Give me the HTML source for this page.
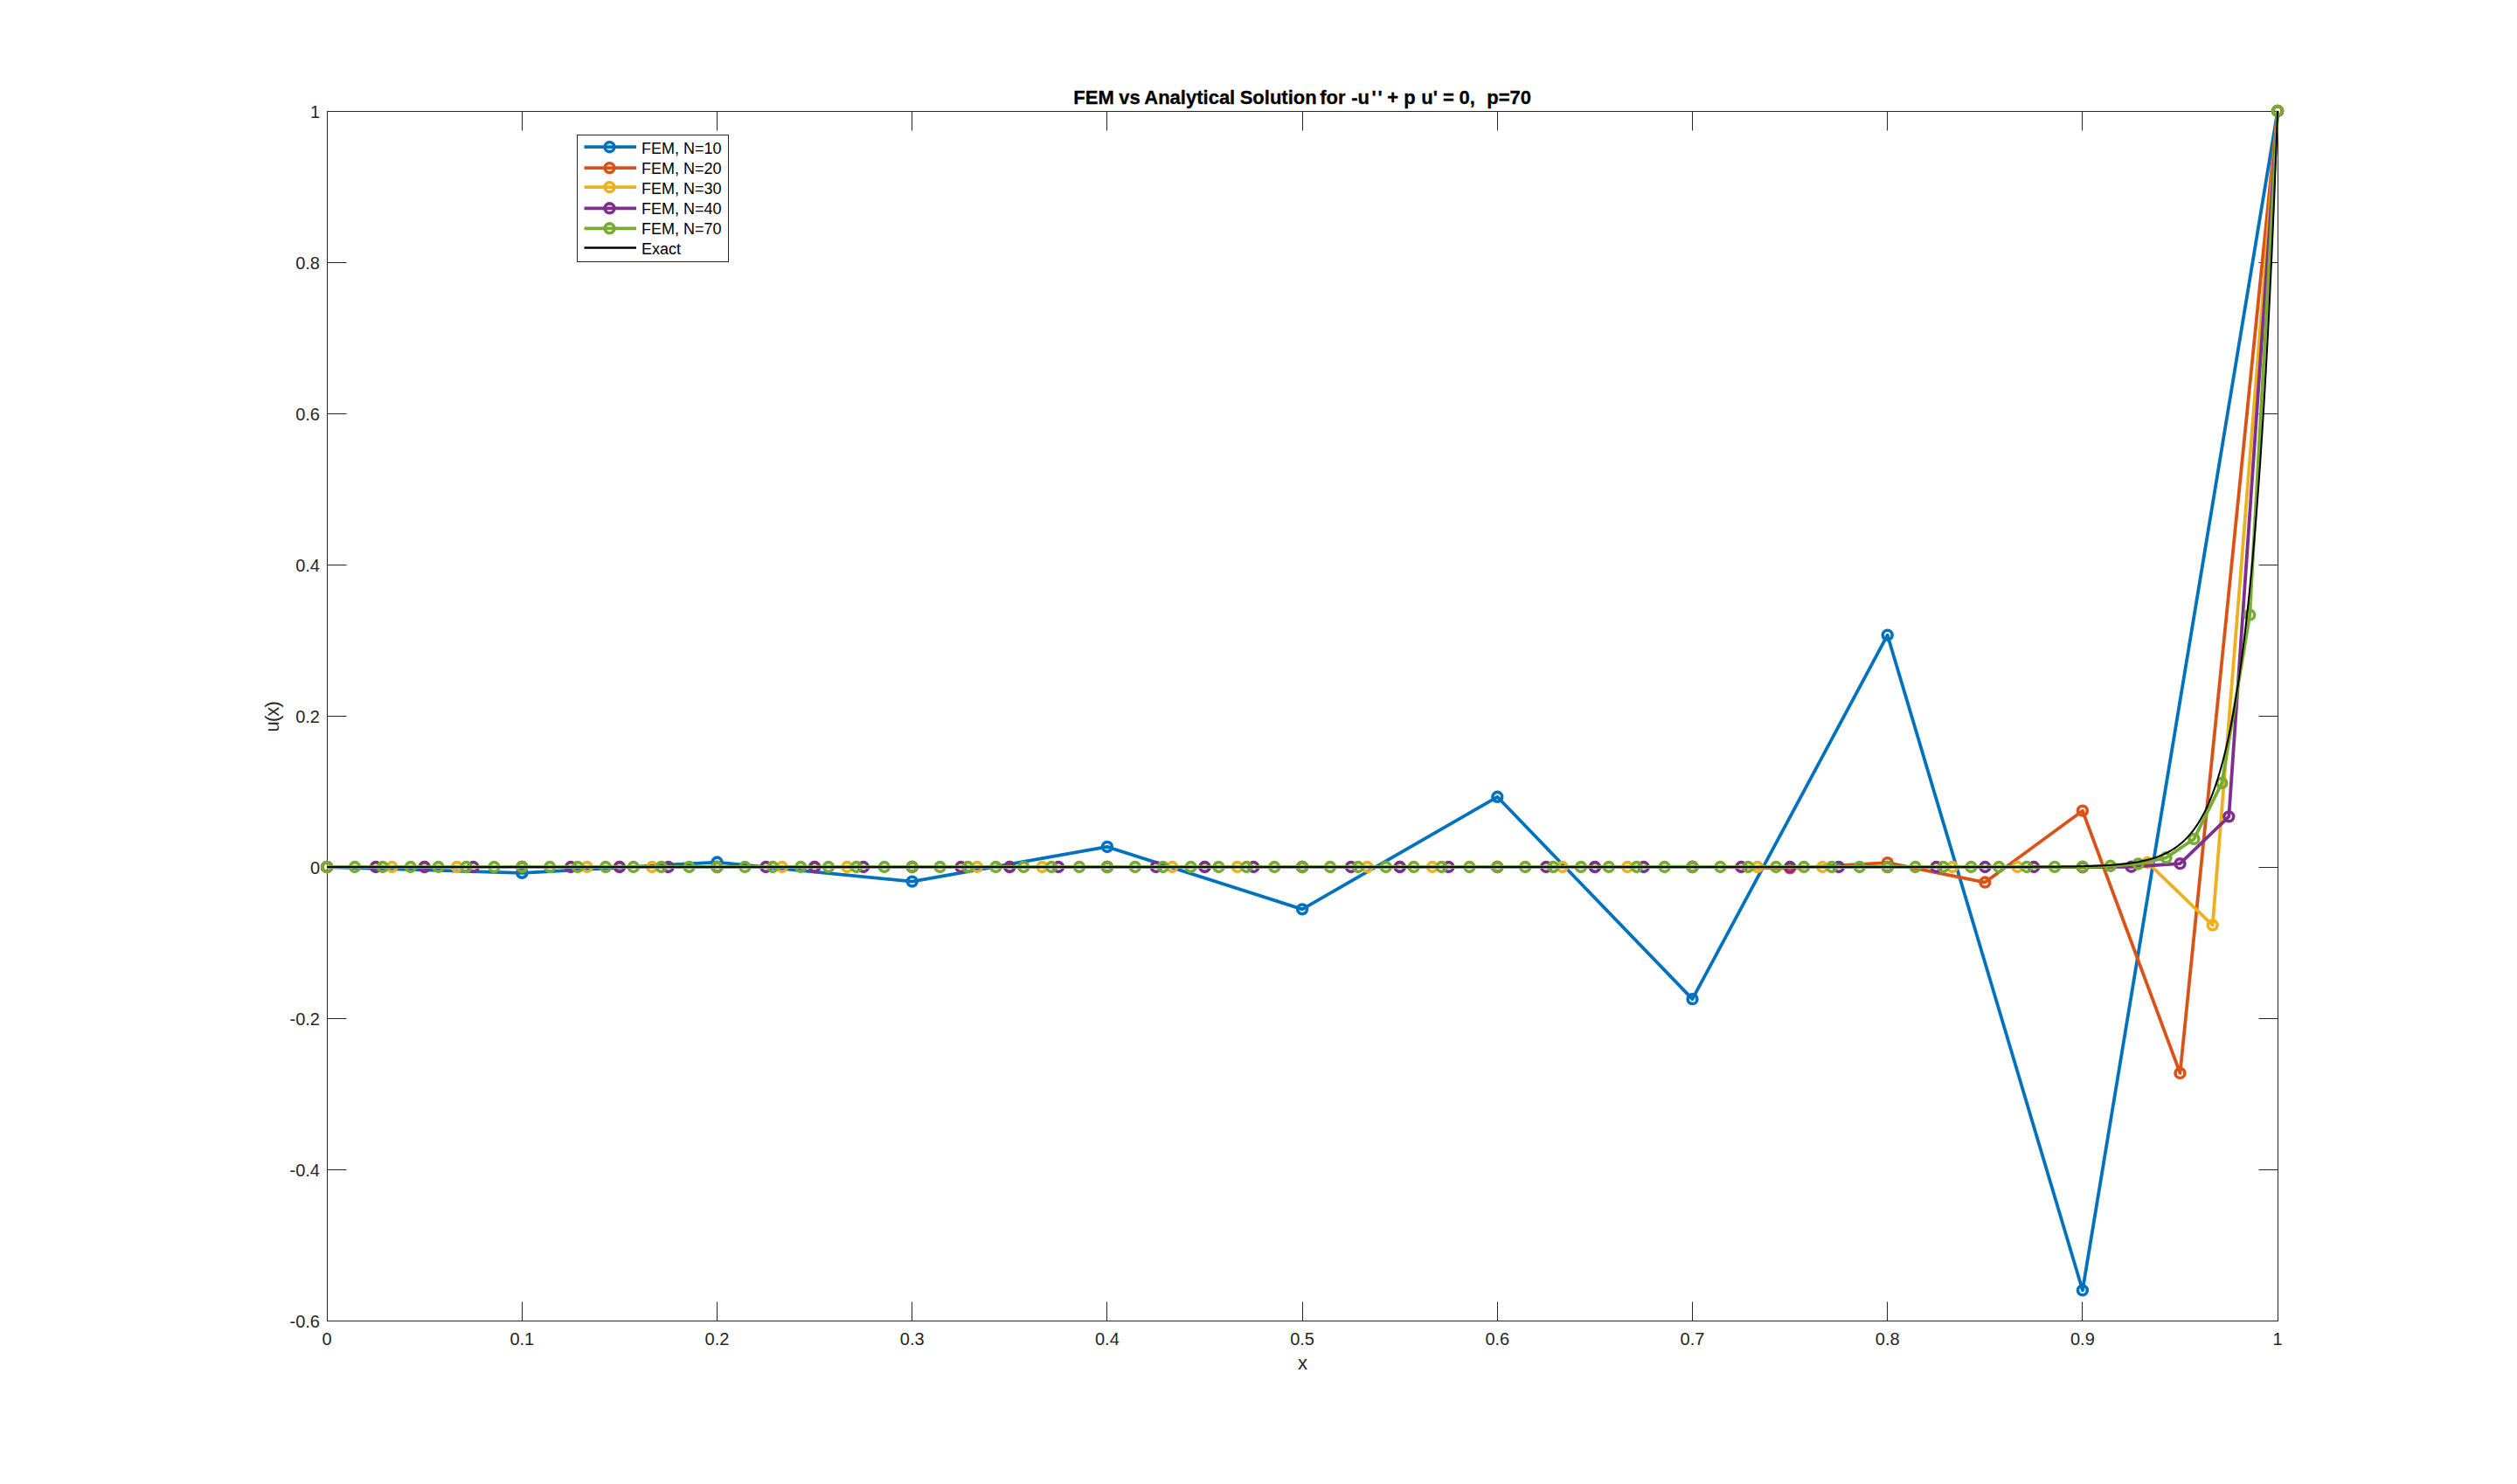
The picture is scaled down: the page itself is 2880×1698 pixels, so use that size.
<!DOCTYPE html><html><head><meta charset="utf-8"><style>html,body{margin:0;padding:0;background:#fff;}svg{display:block;}text{font-family:"Liberation Sans",sans-serif;}</style></head><body>
<svg width="2880" height="1698" viewBox="0 0 2880 1698">
<rect x="0" y="0" width="2880" height="1698" fill="#fff"/>
<path d="M374.50 127.50H2606.50V1511.50H374.50Z" fill="none" stroke="#262626" stroke-width="1"/>
<path d="M374.50 1511.50V1489.50M374.50 127.50V149.50M597.50 1511.50V1489.50M597.50 127.50V149.50M820.50 1511.50V1489.50M820.50 127.50V149.50M1043.50 1511.50V1489.50M1043.50 127.50V149.50M1266.50 1511.50V1489.50M1266.50 127.50V149.50M1490.50 1511.50V1489.50M1490.50 127.50V149.50M1713.50 1511.50V1489.50M1713.50 127.50V149.50M1936.50 1511.50V1489.50M1936.50 127.50V149.50M2159.50 1511.50V1489.50M2159.50 127.50V149.50M2382.50 1511.50V1489.50M2382.50 127.50V149.50M2606.50 1511.50V1489.50M2606.50 127.50V149.50M374.50 1511.50H396.50M2606.50 1511.50H2584.50M374.50 1338.50H396.50M2606.50 1338.50H2584.50M374.50 1165.50H396.50M2606.50 1165.50H2584.50M374.50 992.50H396.50M2606.50 992.50H2584.50M374.50 819.50H396.50M2606.50 819.50H2584.50M374.50 646.50H396.50M2606.50 646.50H2584.50M374.50 473.50H396.50M2606.50 473.50H2584.50M374.50 300.50H396.50M2606.50 300.50H2584.50M374.50 127.50H396.50M2606.50 127.50H2584.50" fill="none" stroke="#262626" stroke-width="1"/>
<path d="M374.10 992.00 L597.30 998.80 L820.50 986.56 L1043.70 1008.60 L1266.90 968.93 L1490.10 1040.34 L1713.30 911.80 L1936.50 1143.17 L2159.70 726.70 L2382.90 1476.33 L2606.10 127.00" fill="none" stroke="#0072BD" stroke-width="3.8" stroke-linejoin="round" stroke-linecap="butt"/>
<path d="M368.70 992.00a5.4 5.4 0 1 0 10.80 0a5.4 5.4 0 1 0 -10.80 0M591.90 998.80a5.4 5.4 0 1 0 10.80 0a5.4 5.4 0 1 0 -10.80 0M815.10 986.56a5.4 5.4 0 1 0 10.80 0a5.4 5.4 0 1 0 -10.80 0M1038.30 1008.60a5.4 5.4 0 1 0 10.80 0a5.4 5.4 0 1 0 -10.80 0M1261.50 968.93a5.4 5.4 0 1 0 10.80 0a5.4 5.4 0 1 0 -10.80 0M1484.70 1040.34a5.4 5.4 0 1 0 10.80 0a5.4 5.4 0 1 0 -10.80 0M1707.90 911.80a5.4 5.4 0 1 0 10.80 0a5.4 5.4 0 1 0 -10.80 0M1931.10 1143.17a5.4 5.4 0 1 0 10.80 0a5.4 5.4 0 1 0 -10.80 0M2154.30 726.70a5.4 5.4 0 1 0 10.80 0a5.4 5.4 0 1 0 -10.80 0M2377.50 1476.33a5.4 5.4 0 1 0 10.80 0a5.4 5.4 0 1 0 -10.80 0M2600.70 127.00a5.4 5.4 0 1 0 10.80 0a5.4 5.4 0 1 0 -10.80 0" fill="none" stroke="#0072BD" stroke-width="3.6"/>
<path d="M374.10 992.00 L485.70 992.00 L597.30 992.00 L708.90 992.00 L820.50 992.00 L932.10 992.00 L1043.70 992.00 L1155.30 992.00 L1266.90 992.00 L1378.50 992.00 L1490.10 992.00 L1601.70 992.01 L1713.30 991.97 L1824.90 992.10 L1936.50 991.64 L2048.10 993.31 L2159.70 987.21 L2271.30 1009.55 L2382.90 927.66 L2494.50 1227.91 L2606.10 127.00" fill="none" stroke="#D95319" stroke-width="3.8" stroke-linejoin="round" stroke-linecap="butt"/>
<path d="M368.70 992.00a5.4 5.4 0 1 0 10.80 0a5.4 5.4 0 1 0 -10.80 0M480.30 992.00a5.4 5.4 0 1 0 10.80 0a5.4 5.4 0 1 0 -10.80 0M591.90 992.00a5.4 5.4 0 1 0 10.80 0a5.4 5.4 0 1 0 -10.80 0M703.50 992.00a5.4 5.4 0 1 0 10.80 0a5.4 5.4 0 1 0 -10.80 0M815.10 992.00a5.4 5.4 0 1 0 10.80 0a5.4 5.4 0 1 0 -10.80 0M926.70 992.00a5.4 5.4 0 1 0 10.80 0a5.4 5.4 0 1 0 -10.80 0M1038.30 992.00a5.4 5.4 0 1 0 10.80 0a5.4 5.4 0 1 0 -10.80 0M1149.90 992.00a5.4 5.4 0 1 0 10.80 0a5.4 5.4 0 1 0 -10.80 0M1261.50 992.00a5.4 5.4 0 1 0 10.80 0a5.4 5.4 0 1 0 -10.80 0M1373.10 992.00a5.4 5.4 0 1 0 10.80 0a5.4 5.4 0 1 0 -10.80 0M1484.70 992.00a5.4 5.4 0 1 0 10.80 0a5.4 5.4 0 1 0 -10.80 0M1596.30 992.01a5.4 5.4 0 1 0 10.80 0a5.4 5.4 0 1 0 -10.80 0M1707.90 991.97a5.4 5.4 0 1 0 10.80 0a5.4 5.4 0 1 0 -10.80 0M1819.50 992.10a5.4 5.4 0 1 0 10.80 0a5.4 5.4 0 1 0 -10.80 0M1931.10 991.64a5.4 5.4 0 1 0 10.80 0a5.4 5.4 0 1 0 -10.80 0M2042.70 993.31a5.4 5.4 0 1 0 10.80 0a5.4 5.4 0 1 0 -10.80 0M2154.30 987.21a5.4 5.4 0 1 0 10.80 0a5.4 5.4 0 1 0 -10.80 0M2265.90 1009.55a5.4 5.4 0 1 0 10.80 0a5.4 5.4 0 1 0 -10.80 0M2377.50 927.66a5.4 5.4 0 1 0 10.80 0a5.4 5.4 0 1 0 -10.80 0M2489.10 1227.91a5.4 5.4 0 1 0 10.80 0a5.4 5.4 0 1 0 -10.80 0M2600.70 127.00a5.4 5.4 0 1 0 10.80 0a5.4 5.4 0 1 0 -10.80 0" fill="none" stroke="#D95319" stroke-width="3.6"/>
<path d="M374.10 992.00 L448.50 992.00 L522.90 992.00 L597.30 992.00 L671.70 992.00 L746.10 992.00 L820.50 992.00 L894.90 992.00 L969.30 992.00 L1043.70 992.00 L1118.10 992.00 L1192.50 992.00 L1266.90 992.00 L1341.30 992.00 L1415.70 992.00 L1490.10 992.00 L1564.50 992.00 L1638.90 992.00 L1713.30 992.00 L1787.70 992.00 L1862.10 992.00 L1936.50 992.00 L2010.90 992.00 L2085.30 992.00 L2159.70 992.00 L2234.10 992.00 L2308.50 991.97 L2382.90 992.39 L2457.30 986.88 L2531.70 1058.54 L2606.10 127.00" fill="none" stroke="#EDB120" stroke-width="3.8" stroke-linejoin="round" stroke-linecap="butt"/>
<path d="M368.70 992.00a5.4 5.4 0 1 0 10.80 0a5.4 5.4 0 1 0 -10.80 0M443.10 992.00a5.4 5.4 0 1 0 10.80 0a5.4 5.4 0 1 0 -10.80 0M517.50 992.00a5.4 5.4 0 1 0 10.80 0a5.4 5.4 0 1 0 -10.80 0M591.90 992.00a5.4 5.4 0 1 0 10.80 0a5.4 5.4 0 1 0 -10.80 0M666.30 992.00a5.4 5.4 0 1 0 10.80 0a5.4 5.4 0 1 0 -10.80 0M740.70 992.00a5.4 5.4 0 1 0 10.80 0a5.4 5.4 0 1 0 -10.80 0M815.10 992.00a5.4 5.4 0 1 0 10.80 0a5.4 5.4 0 1 0 -10.80 0M889.50 992.00a5.4 5.4 0 1 0 10.80 0a5.4 5.4 0 1 0 -10.80 0M963.90 992.00a5.4 5.4 0 1 0 10.80 0a5.4 5.4 0 1 0 -10.80 0M1038.30 992.00a5.4 5.4 0 1 0 10.80 0a5.4 5.4 0 1 0 -10.80 0M1112.70 992.00a5.4 5.4 0 1 0 10.80 0a5.4 5.4 0 1 0 -10.80 0M1187.10 992.00a5.4 5.4 0 1 0 10.80 0a5.4 5.4 0 1 0 -10.80 0M1261.50 992.00a5.4 5.4 0 1 0 10.80 0a5.4 5.4 0 1 0 -10.80 0M1335.90 992.00a5.4 5.4 0 1 0 10.80 0a5.4 5.4 0 1 0 -10.80 0M1410.30 992.00a5.4 5.4 0 1 0 10.80 0a5.4 5.4 0 1 0 -10.80 0M1484.70 992.00a5.4 5.4 0 1 0 10.80 0a5.4 5.4 0 1 0 -10.80 0M1559.10 992.00a5.4 5.4 0 1 0 10.80 0a5.4 5.4 0 1 0 -10.80 0M1633.50 992.00a5.4 5.4 0 1 0 10.80 0a5.4 5.4 0 1 0 -10.80 0M1707.90 992.00a5.4 5.4 0 1 0 10.80 0a5.4 5.4 0 1 0 -10.80 0M1782.30 992.00a5.4 5.4 0 1 0 10.80 0a5.4 5.4 0 1 0 -10.80 0M1856.70 992.00a5.4 5.4 0 1 0 10.80 0a5.4 5.4 0 1 0 -10.80 0M1931.10 992.00a5.4 5.4 0 1 0 10.80 0a5.4 5.4 0 1 0 -10.80 0M2005.50 992.00a5.4 5.4 0 1 0 10.80 0a5.4 5.4 0 1 0 -10.80 0M2079.90 992.00a5.4 5.4 0 1 0 10.80 0a5.4 5.4 0 1 0 -10.80 0M2154.30 992.00a5.4 5.4 0 1 0 10.80 0a5.4 5.4 0 1 0 -10.80 0M2228.70 992.00a5.4 5.4 0 1 0 10.80 0a5.4 5.4 0 1 0 -10.80 0M2303.10 991.97a5.4 5.4 0 1 0 10.80 0a5.4 5.4 0 1 0 -10.80 0M2377.50 992.39a5.4 5.4 0 1 0 10.80 0a5.4 5.4 0 1 0 -10.80 0M2451.90 986.88a5.4 5.4 0 1 0 10.80 0a5.4 5.4 0 1 0 -10.80 0M2526.30 1058.54a5.4 5.4 0 1 0 10.80 0a5.4 5.4 0 1 0 -10.80 0M2600.70 127.00a5.4 5.4 0 1 0 10.80 0a5.4 5.4 0 1 0 -10.80 0" fill="none" stroke="#EDB120" stroke-width="3.6"/>
<path d="M374.10 992.00 L429.90 992.00 L485.70 992.00 L541.50 992.00 L597.30 992.00 L653.10 992.00 L708.90 992.00 L764.70 992.00 L820.50 992.00 L876.30 992.00 L932.10 992.00 L987.90 992.00 L1043.70 992.00 L1099.50 992.00 L1155.30 992.00 L1211.10 992.00 L1266.90 992.00 L1322.70 992.00 L1378.50 992.00 L1434.30 992.00 L1490.10 992.00 L1545.90 992.00 L1601.70 992.00 L1657.50 992.00 L1713.30 992.00 L1769.10 992.00 L1824.90 992.00 L1880.70 992.00 L1936.50 992.00 L1992.30 992.00 L2048.10 992.00 L2103.90 992.00 L2159.70 992.00 L2215.50 992.00 L2271.30 992.00 L2327.10 992.00 L2382.90 991.98 L2438.70 991.74 L2494.50 988.16 L2550.30 934.33 L2606.10 127.00" fill="none" stroke="#7E2F8E" stroke-width="3.8" stroke-linejoin="round" stroke-linecap="butt"/>
<path d="M368.70 992.00a5.4 5.4 0 1 0 10.80 0a5.4 5.4 0 1 0 -10.80 0M424.50 992.00a5.4 5.4 0 1 0 10.80 0a5.4 5.4 0 1 0 -10.80 0M480.30 992.00a5.4 5.4 0 1 0 10.80 0a5.4 5.4 0 1 0 -10.80 0M536.10 992.00a5.4 5.4 0 1 0 10.80 0a5.4 5.4 0 1 0 -10.80 0M591.90 992.00a5.4 5.4 0 1 0 10.80 0a5.4 5.4 0 1 0 -10.80 0M647.70 992.00a5.4 5.4 0 1 0 10.80 0a5.4 5.4 0 1 0 -10.80 0M703.50 992.00a5.4 5.4 0 1 0 10.80 0a5.4 5.4 0 1 0 -10.80 0M759.30 992.00a5.4 5.4 0 1 0 10.80 0a5.4 5.4 0 1 0 -10.80 0M815.10 992.00a5.4 5.4 0 1 0 10.80 0a5.4 5.4 0 1 0 -10.80 0M870.90 992.00a5.4 5.4 0 1 0 10.80 0a5.4 5.4 0 1 0 -10.80 0M926.70 992.00a5.4 5.4 0 1 0 10.80 0a5.4 5.4 0 1 0 -10.80 0M982.50 992.00a5.4 5.4 0 1 0 10.80 0a5.4 5.4 0 1 0 -10.80 0M1038.30 992.00a5.4 5.4 0 1 0 10.80 0a5.4 5.4 0 1 0 -10.80 0M1094.10 992.00a5.4 5.4 0 1 0 10.80 0a5.4 5.4 0 1 0 -10.80 0M1149.90 992.00a5.4 5.4 0 1 0 10.80 0a5.4 5.4 0 1 0 -10.80 0M1205.70 992.00a5.4 5.4 0 1 0 10.80 0a5.4 5.4 0 1 0 -10.80 0M1261.50 992.00a5.4 5.4 0 1 0 10.80 0a5.4 5.4 0 1 0 -10.80 0M1317.30 992.00a5.4 5.4 0 1 0 10.80 0a5.4 5.4 0 1 0 -10.80 0M1373.10 992.00a5.4 5.4 0 1 0 10.80 0a5.4 5.4 0 1 0 -10.80 0M1428.90 992.00a5.4 5.4 0 1 0 10.80 0a5.4 5.4 0 1 0 -10.80 0M1484.70 992.00a5.4 5.4 0 1 0 10.80 0a5.4 5.4 0 1 0 -10.80 0M1540.50 992.00a5.4 5.4 0 1 0 10.80 0a5.4 5.4 0 1 0 -10.80 0M1596.30 992.00a5.4 5.4 0 1 0 10.80 0a5.4 5.4 0 1 0 -10.80 0M1652.10 992.00a5.4 5.4 0 1 0 10.80 0a5.4 5.4 0 1 0 -10.80 0M1707.90 992.00a5.4 5.4 0 1 0 10.80 0a5.4 5.4 0 1 0 -10.80 0M1763.70 992.00a5.4 5.4 0 1 0 10.80 0a5.4 5.4 0 1 0 -10.80 0M1819.50 992.00a5.4 5.4 0 1 0 10.80 0a5.4 5.4 0 1 0 -10.80 0M1875.30 992.00a5.4 5.4 0 1 0 10.80 0a5.4 5.4 0 1 0 -10.80 0M1931.10 992.00a5.4 5.4 0 1 0 10.80 0a5.4 5.4 0 1 0 -10.80 0M1986.90 992.00a5.4 5.4 0 1 0 10.80 0a5.4 5.4 0 1 0 -10.80 0M2042.70 992.00a5.4 5.4 0 1 0 10.80 0a5.4 5.4 0 1 0 -10.80 0M2098.50 992.00a5.4 5.4 0 1 0 10.80 0a5.4 5.4 0 1 0 -10.80 0M2154.30 992.00a5.4 5.4 0 1 0 10.80 0a5.4 5.4 0 1 0 -10.80 0M2210.10 992.00a5.4 5.4 0 1 0 10.80 0a5.4 5.4 0 1 0 -10.80 0M2265.90 992.00a5.4 5.4 0 1 0 10.80 0a5.4 5.4 0 1 0 -10.80 0M2321.70 992.00a5.4 5.4 0 1 0 10.80 0a5.4 5.4 0 1 0 -10.80 0M2377.50 991.98a5.4 5.4 0 1 0 10.80 0a5.4 5.4 0 1 0 -10.80 0M2433.30 991.74a5.4 5.4 0 1 0 10.80 0a5.4 5.4 0 1 0 -10.80 0M2489.10 988.16a5.4 5.4 0 1 0 10.80 0a5.4 5.4 0 1 0 -10.80 0M2544.90 934.33a5.4 5.4 0 1 0 10.80 0a5.4 5.4 0 1 0 -10.80 0M2600.70 127.00a5.4 5.4 0 1 0 10.80 0a5.4 5.4 0 1 0 -10.80 0" fill="none" stroke="#7E2F8E" stroke-width="3.6"/>
<path d="M374.10 992.00 L405.99 992.00 L437.87 992.00 L469.76 992.00 L501.64 992.00 L533.53 992.00 L565.41 992.00 L597.30 992.00 L629.19 992.00 L661.07 992.00 L692.96 992.00 L724.84 992.00 L756.73 992.00 L788.61 992.00 L820.50 992.00 L852.39 992.00 L884.27 992.00 L916.16 992.00 L948.04 992.00 L979.93 992.00 L1011.81 992.00 L1043.70 992.00 L1075.59 992.00 L1107.47 992.00 L1139.36 992.00 L1171.24 992.00 L1203.13 992.00 L1235.01 992.00 L1266.90 992.00 L1298.79 992.00 L1330.67 992.00 L1362.56 992.00 L1394.44 992.00 L1426.33 992.00 L1458.21 992.00 L1490.10 992.00 L1521.99 992.00 L1553.87 992.00 L1585.76 992.00 L1617.64 992.00 L1649.53 992.00 L1681.41 992.00 L1713.30 992.00 L1745.19 992.00 L1777.07 992.00 L1808.96 992.00 L1840.84 992.00 L1872.73 992.00 L1904.61 992.00 L1936.50 992.00 L1968.39 992.00 L2000.27 992.00 L2032.16 992.00 L2064.04 992.00 L2095.93 992.00 L2127.81 992.00 L2159.70 992.00 L2191.59 992.00 L2223.47 992.00 L2255.36 992.00 L2287.24 991.99 L2319.13 991.96 L2351.01 991.87 L2382.90 991.60 L2414.79 990.81 L2446.67 988.44 L2478.56 981.32 L2510.44 959.96 L2542.33 895.89 L2574.21 703.67 L2606.10 127.00" fill="none" stroke="#77AC30" stroke-width="3.8" stroke-linejoin="round" stroke-linecap="butt"/>
<path d="M368.70 992.00a5.4 5.4 0 1 0 10.80 0a5.4 5.4 0 1 0 -10.80 0M400.59 992.00a5.4 5.4 0 1 0 10.80 0a5.4 5.4 0 1 0 -10.80 0M432.47 992.00a5.4 5.4 0 1 0 10.80 0a5.4 5.4 0 1 0 -10.80 0M464.36 992.00a5.4 5.4 0 1 0 10.80 0a5.4 5.4 0 1 0 -10.80 0M496.24 992.00a5.4 5.4 0 1 0 10.80 0a5.4 5.4 0 1 0 -10.80 0M528.13 992.00a5.4 5.4 0 1 0 10.80 0a5.4 5.4 0 1 0 -10.80 0M560.01 992.00a5.4 5.4 0 1 0 10.80 0a5.4 5.4 0 1 0 -10.80 0M591.90 992.00a5.4 5.4 0 1 0 10.80 0a5.4 5.4 0 1 0 -10.80 0M623.79 992.00a5.4 5.4 0 1 0 10.80 0a5.4 5.4 0 1 0 -10.80 0M655.67 992.00a5.4 5.4 0 1 0 10.80 0a5.4 5.4 0 1 0 -10.80 0M687.56 992.00a5.4 5.4 0 1 0 10.80 0a5.4 5.4 0 1 0 -10.80 0M719.44 992.00a5.4 5.4 0 1 0 10.80 0a5.4 5.4 0 1 0 -10.80 0M751.33 992.00a5.4 5.4 0 1 0 10.80 0a5.4 5.4 0 1 0 -10.80 0M783.21 992.00a5.4 5.4 0 1 0 10.80 0a5.4 5.4 0 1 0 -10.80 0M815.10 992.00a5.4 5.4 0 1 0 10.80 0a5.4 5.4 0 1 0 -10.80 0M846.99 992.00a5.4 5.4 0 1 0 10.80 0a5.4 5.4 0 1 0 -10.80 0M878.87 992.00a5.4 5.4 0 1 0 10.80 0a5.4 5.4 0 1 0 -10.80 0M910.76 992.00a5.4 5.4 0 1 0 10.80 0a5.4 5.4 0 1 0 -10.80 0M942.64 992.00a5.4 5.4 0 1 0 10.80 0a5.4 5.4 0 1 0 -10.80 0M974.53 992.00a5.4 5.4 0 1 0 10.80 0a5.4 5.4 0 1 0 -10.80 0M1006.41 992.00a5.4 5.4 0 1 0 10.80 0a5.4 5.4 0 1 0 -10.80 0M1038.30 992.00a5.4 5.4 0 1 0 10.80 0a5.4 5.4 0 1 0 -10.80 0M1070.19 992.00a5.4 5.4 0 1 0 10.80 0a5.4 5.4 0 1 0 -10.80 0M1102.07 992.00a5.4 5.4 0 1 0 10.80 0a5.4 5.4 0 1 0 -10.80 0M1133.96 992.00a5.4 5.4 0 1 0 10.80 0a5.4 5.4 0 1 0 -10.80 0M1165.84 992.00a5.4 5.4 0 1 0 10.80 0a5.4 5.4 0 1 0 -10.80 0M1197.73 992.00a5.4 5.4 0 1 0 10.80 0a5.4 5.4 0 1 0 -10.80 0M1229.61 992.00a5.4 5.4 0 1 0 10.80 0a5.4 5.4 0 1 0 -10.80 0M1261.50 992.00a5.4 5.4 0 1 0 10.80 0a5.4 5.4 0 1 0 -10.80 0M1293.39 992.00a5.4 5.4 0 1 0 10.80 0a5.4 5.4 0 1 0 -10.80 0M1325.27 992.00a5.4 5.4 0 1 0 10.80 0a5.4 5.4 0 1 0 -10.80 0M1357.16 992.00a5.4 5.4 0 1 0 10.80 0a5.4 5.4 0 1 0 -10.80 0M1389.04 992.00a5.4 5.4 0 1 0 10.80 0a5.4 5.4 0 1 0 -10.80 0M1420.93 992.00a5.4 5.4 0 1 0 10.80 0a5.4 5.4 0 1 0 -10.80 0M1452.81 992.00a5.4 5.4 0 1 0 10.80 0a5.4 5.4 0 1 0 -10.80 0M1484.70 992.00a5.4 5.4 0 1 0 10.80 0a5.4 5.4 0 1 0 -10.80 0M1516.59 992.00a5.4 5.4 0 1 0 10.80 0a5.4 5.4 0 1 0 -10.80 0M1548.47 992.00a5.4 5.4 0 1 0 10.80 0a5.4 5.4 0 1 0 -10.80 0M1580.36 992.00a5.4 5.4 0 1 0 10.80 0a5.4 5.4 0 1 0 -10.80 0M1612.24 992.00a5.4 5.4 0 1 0 10.80 0a5.4 5.4 0 1 0 -10.80 0M1644.13 992.00a5.4 5.4 0 1 0 10.80 0a5.4 5.4 0 1 0 -10.80 0M1676.01 992.00a5.4 5.4 0 1 0 10.80 0a5.4 5.4 0 1 0 -10.80 0M1707.90 992.00a5.4 5.4 0 1 0 10.80 0a5.4 5.4 0 1 0 -10.80 0M1739.79 992.00a5.4 5.4 0 1 0 10.80 0a5.4 5.4 0 1 0 -10.80 0M1771.67 992.00a5.4 5.4 0 1 0 10.80 0a5.4 5.4 0 1 0 -10.80 0M1803.56 992.00a5.4 5.4 0 1 0 10.80 0a5.4 5.4 0 1 0 -10.80 0M1835.44 992.00a5.4 5.4 0 1 0 10.80 0a5.4 5.4 0 1 0 -10.80 0M1867.33 992.00a5.4 5.4 0 1 0 10.80 0a5.4 5.4 0 1 0 -10.80 0M1899.21 992.00a5.4 5.4 0 1 0 10.80 0a5.4 5.4 0 1 0 -10.80 0M1931.10 992.00a5.4 5.4 0 1 0 10.80 0a5.4 5.4 0 1 0 -10.80 0M1962.99 992.00a5.4 5.4 0 1 0 10.80 0a5.4 5.4 0 1 0 -10.80 0M1994.87 992.00a5.4 5.4 0 1 0 10.80 0a5.4 5.4 0 1 0 -10.80 0M2026.76 992.00a5.4 5.4 0 1 0 10.80 0a5.4 5.4 0 1 0 -10.80 0M2058.64 992.00a5.4 5.4 0 1 0 10.80 0a5.4 5.4 0 1 0 -10.80 0M2090.53 992.00a5.4 5.4 0 1 0 10.80 0a5.4 5.4 0 1 0 -10.80 0M2122.41 992.00a5.4 5.4 0 1 0 10.80 0a5.4 5.4 0 1 0 -10.80 0M2154.30 992.00a5.4 5.4 0 1 0 10.80 0a5.4 5.4 0 1 0 -10.80 0M2186.19 992.00a5.4 5.4 0 1 0 10.80 0a5.4 5.4 0 1 0 -10.80 0M2218.07 992.00a5.4 5.4 0 1 0 10.80 0a5.4 5.4 0 1 0 -10.80 0M2249.96 992.00a5.4 5.4 0 1 0 10.80 0a5.4 5.4 0 1 0 -10.80 0M2281.84 991.99a5.4 5.4 0 1 0 10.80 0a5.4 5.4 0 1 0 -10.80 0M2313.73 991.96a5.4 5.4 0 1 0 10.80 0a5.4 5.4 0 1 0 -10.80 0M2345.61 991.87a5.4 5.4 0 1 0 10.80 0a5.4 5.4 0 1 0 -10.80 0M2377.50 991.60a5.4 5.4 0 1 0 10.80 0a5.4 5.4 0 1 0 -10.80 0M2409.39 990.81a5.4 5.4 0 1 0 10.80 0a5.4 5.4 0 1 0 -10.80 0M2441.27 988.44a5.4 5.4 0 1 0 10.80 0a5.4 5.4 0 1 0 -10.80 0M2473.16 981.32a5.4 5.4 0 1 0 10.80 0a5.4 5.4 0 1 0 -10.80 0M2505.04 959.96a5.4 5.4 0 1 0 10.80 0a5.4 5.4 0 1 0 -10.80 0M2536.93 895.89a5.4 5.4 0 1 0 10.80 0a5.4 5.4 0 1 0 -10.80 0M2568.81 703.67a5.4 5.4 0 1 0 10.80 0a5.4 5.4 0 1 0 -10.80 0M2600.70 127.00a5.4 5.4 0 1 0 10.80 0a5.4 5.4 0 1 0 -10.80 0" fill="none" stroke="#77AC30" stroke-width="3.6"/>
<path d="M374.10 992.00 L375.22 992.00 L376.33 992.00 L377.45 992.00 L378.56 992.00 L379.68 992.00 L380.80 992.00 L381.91 992.00 L383.03 992.00 L384.14 992.00 L385.26 992.00 L386.38 992.00 L387.49 992.00 L388.61 992.00 L389.72 992.00 L390.84 992.00 L391.96 992.00 L393.07 992.00 L394.19 992.00 L395.30 992.00 L396.42 992.00 L397.54 992.00 L398.65 992.00 L399.77 992.00 L400.88 992.00 L402.00 992.00 L403.12 992.00 L404.23 992.00 L405.35 992.00 L406.46 992.00 L407.58 992.00 L408.70 992.00 L409.81 992.00 L410.93 992.00 L412.04 992.00 L413.16 992.00 L414.28 992.00 L415.39 992.00 L416.51 992.00 L417.62 992.00 L418.74 992.00 L419.86 992.00 L420.97 992.00 L422.09 992.00 L423.20 992.00 L424.32 992.00 L425.44 992.00 L426.55 992.00 L427.67 992.00 L428.78 992.00 L429.90 992.00 L431.02 992.00 L432.13 992.00 L433.25 992.00 L434.36 992.00 L435.48 992.00 L436.60 992.00 L437.71 992.00 L438.83 992.00 L439.94 992.00 L441.06 992.00 L442.18 992.00 L443.29 992.00 L444.41 992.00 L445.52 992.00 L446.64 992.00 L447.76 992.00 L448.87 992.00 L449.99 992.00 L451.10 992.00 L452.22 992.00 L453.34 992.00 L454.45 992.00 L455.57 992.00 L456.68 992.00 L457.80 992.00 L458.92 992.00 L460.03 992.00 L461.15 992.00 L462.26 992.00 L463.38 992.00 L464.50 992.00 L465.61 992.00 L466.73 992.00 L467.84 992.00 L468.96 992.00 L470.08 992.00 L471.19 992.00 L472.31 992.00 L473.42 992.00 L474.54 992.00 L475.66 992.00 L476.77 992.00 L477.89 992.00 L479.00 992.00 L480.12 992.00 L481.24 992.00 L482.35 992.00 L483.47 992.00 L484.58 992.00 L485.70 992.00 L486.82 992.00 L487.93 992.00 L489.05 992.00 L490.16 992.00 L491.28 992.00 L492.40 992.00 L493.51 992.00 L494.63 992.00 L495.74 992.00 L496.86 992.00 L497.98 992.00 L499.09 992.00 L500.21 992.00 L501.32 992.00 L502.44 992.00 L503.56 992.00 L504.67 992.00 L505.79 992.00 L506.90 992.00 L508.02 992.00 L509.14 992.00 L510.25 992.00 L511.37 992.00 L512.48 992.00 L513.60 992.00 L514.72 992.00 L515.83 992.00 L516.95 992.00 L518.06 992.00 L519.18 992.00 L520.30 992.00 L521.41 992.00 L522.53 992.00 L523.64 992.00 L524.76 992.00 L525.88 992.00 L526.99 992.00 L528.11 992.00 L529.22 992.00 L530.34 992.00 L531.46 992.00 L532.57 992.00 L533.69 992.00 L534.80 992.00 L535.92 992.00 L537.04 992.00 L538.15 992.00 L539.27 992.00 L540.38 992.00 L541.50 992.00 L542.62 992.00 L543.73 992.00 L544.85 992.00 L545.96 992.00 L547.08 992.00 L548.20 992.00 L549.31 992.00 L550.43 992.00 L551.54 992.00 L552.66 992.00 L553.78 992.00 L554.89 992.00 L556.01 992.00 L557.12 992.00 L558.24 992.00 L559.36 992.00 L560.47 992.00 L561.59 992.00 L562.70 992.00 L563.82 992.00 L564.94 992.00 L566.05 992.00 L567.17 992.00 L568.28 992.00 L569.40 992.00 L570.52 992.00 L571.63 992.00 L572.75 992.00 L573.86 992.00 L574.98 992.00 L576.10 992.00 L577.21 992.00 L578.33 992.00 L579.44 992.00 L580.56 992.00 L581.68 992.00 L582.79 992.00 L583.91 992.00 L585.02 992.00 L586.14 992.00 L587.26 992.00 L588.37 992.00 L589.49 992.00 L590.60 992.00 L591.72 992.00 L592.84 992.00 L593.95 992.00 L595.07 992.00 L596.18 992.00 L597.30 992.00 L598.42 992.00 L599.53 992.00 L600.65 992.00 L601.76 992.00 L602.88 992.00 L604.00 992.00 L605.11 992.00 L606.23 992.00 L607.34 992.00 L608.46 992.00 L609.58 992.00 L610.69 992.00 L611.81 992.00 L612.92 992.00 L614.04 992.00 L615.16 992.00 L616.27 992.00 L617.39 992.00 L618.50 992.00 L619.62 992.00 L620.74 992.00 L621.85 992.00 L622.97 992.00 L624.08 992.00 L625.20 992.00 L626.32 992.00 L627.43 992.00 L628.55 992.00 L629.66 992.00 L630.78 992.00 L631.90 992.00 L633.01 992.00 L634.13 992.00 L635.24 992.00 L636.36 992.00 L637.48 992.00 L638.59 992.00 L639.71 992.00 L640.82 992.00 L641.94 992.00 L643.06 992.00 L644.17 992.00 L645.29 992.00 L646.40 992.00 L647.52 992.00 L648.64 992.00 L649.75 992.00 L650.87 992.00 L651.98 992.00 L653.10 992.00 L654.22 992.00 L655.33 992.00 L656.45 992.00 L657.56 992.00 L658.68 992.00 L659.80 992.00 L660.91 992.00 L662.03 992.00 L663.14 992.00 L664.26 992.00 L665.38 992.00 L666.49 992.00 L667.61 992.00 L668.72 992.00 L669.84 992.00 L670.96 992.00 L672.07 992.00 L673.19 992.00 L674.30 992.00 L675.42 992.00 L676.54 992.00 L677.65 992.00 L678.77 992.00 L679.88 992.00 L681.00 992.00 L682.12 992.00 L683.23 992.00 L684.35 992.00 L685.46 992.00 L686.58 992.00 L687.70 992.00 L688.81 992.00 L689.93 992.00 L691.04 992.00 L692.16 992.00 L693.28 992.00 L694.39 992.00 L695.51 992.00 L696.62 992.00 L697.74 992.00 L698.86 992.00 L699.97 992.00 L701.09 992.00 L702.20 992.00 L703.32 992.00 L704.44 992.00 L705.55 992.00 L706.67 992.00 L707.78 992.00 L708.90 992.00 L710.02 992.00 L711.13 992.00 L712.25 992.00 L713.36 992.00 L714.48 992.00 L715.60 992.00 L716.71 992.00 L717.83 992.00 L718.94 992.00 L720.06 992.00 L721.18 992.00 L722.29 992.00 L723.41 992.00 L724.52 992.00 L725.64 992.00 L726.76 992.00 L727.87 992.00 L728.99 992.00 L730.10 992.00 L731.22 992.00 L732.34 992.00 L733.45 992.00 L734.57 992.00 L735.68 992.00 L736.80 992.00 L737.92 992.00 L739.03 992.00 L740.15 992.00 L741.26 992.00 L742.38 992.00 L743.50 992.00 L744.61 992.00 L745.73 992.00 L746.84 992.00 L747.96 992.00 L749.08 992.00 L750.19 992.00 L751.31 992.00 L752.42 992.00 L753.54 992.00 L754.66 992.00 L755.77 992.00 L756.89 992.00 L758.00 992.00 L759.12 992.00 L760.24 992.00 L761.35 992.00 L762.47 992.00 L763.58 992.00 L764.70 992.00 L765.82 992.00 L766.93 992.00 L768.05 992.00 L769.16 992.00 L770.28 992.00 L771.40 992.00 L772.51 992.00 L773.63 992.00 L774.74 992.00 L775.86 992.00 L776.98 992.00 L778.09 992.00 L779.21 992.00 L780.32 992.00 L781.44 992.00 L782.56 992.00 L783.67 992.00 L784.79 992.00 L785.90 992.00 L787.02 992.00 L788.14 992.00 L789.25 992.00 L790.37 992.00 L791.48 992.00 L792.60 992.00 L793.72 992.00 L794.83 992.00 L795.95 992.00 L797.06 992.00 L798.18 992.00 L799.30 992.00 L800.41 992.00 L801.53 992.00 L802.64 992.00 L803.76 992.00 L804.88 992.00 L805.99 992.00 L807.11 992.00 L808.22 992.00 L809.34 992.00 L810.46 992.00 L811.57 992.00 L812.69 992.00 L813.80 992.00 L814.92 992.00 L816.04 992.00 L817.15 992.00 L818.27 992.00 L819.38 992.00 L820.50 992.00 L821.62 992.00 L822.73 992.00 L823.85 992.00 L824.96 992.00 L826.08 992.00 L827.20 992.00 L828.31 992.00 L829.43 992.00 L830.54 992.00 L831.66 992.00 L832.78 992.00 L833.89 992.00 L835.01 992.00 L836.12 992.00 L837.24 992.00 L838.36 992.00 L839.47 992.00 L840.59 992.00 L841.70 992.00 L842.82 992.00 L843.94 992.00 L845.05 992.00 L846.17 992.00 L847.28 992.00 L848.40 992.00 L849.52 992.00 L850.63 992.00 L851.75 992.00 L852.86 992.00 L853.98 992.00 L855.10 992.00 L856.21 992.00 L857.33 992.00 L858.44 992.00 L859.56 992.00 L860.68 992.00 L861.79 992.00 L862.91 992.00 L864.02 992.00 L865.14 992.00 L866.26 992.00 L867.37 992.00 L868.49 992.00 L869.60 992.00 L870.72 992.00 L871.84 992.00 L872.95 992.00 L874.07 992.00 L875.18 992.00 L876.30 992.00 L877.42 992.00 L878.53 992.00 L879.65 992.00 L880.76 992.00 L881.88 992.00 L883.00 992.00 L884.11 992.00 L885.23 992.00 L886.34 992.00 L887.46 992.00 L888.58 992.00 L889.69 992.00 L890.81 992.00 L891.92 992.00 L893.04 992.00 L894.16 992.00 L895.27 992.00 L896.39 992.00 L897.50 992.00 L898.62 992.00 L899.74 992.00 L900.85 992.00 L901.97 992.00 L903.08 992.00 L904.20 992.00 L905.32 992.00 L906.43 992.00 L907.55 992.00 L908.66 992.00 L909.78 992.00 L910.90 992.00 L912.01 992.00 L913.13 992.00 L914.24 992.00 L915.36 992.00 L916.48 992.00 L917.59 992.00 L918.71 992.00 L919.82 992.00 L920.94 992.00 L922.06 992.00 L923.17 992.00 L924.29 992.00 L925.40 992.00 L926.52 992.00 L927.64 992.00 L928.75 992.00 L929.87 992.00 L930.98 992.00 L932.10 992.00 L933.22 992.00 L934.33 992.00 L935.45 992.00 L936.56 992.00 L937.68 992.00 L938.80 992.00 L939.91 992.00 L941.03 992.00 L942.14 992.00 L943.26 992.00 L944.38 992.00 L945.49 992.00 L946.61 992.00 L947.72 992.00 L948.84 992.00 L949.96 992.00 L951.07 992.00 L952.19 992.00 L953.30 992.00 L954.42 992.00 L955.54 992.00 L956.65 992.00 L957.77 992.00 L958.88 992.00 L960.00 992.00 L961.12 992.00 L962.23 992.00 L963.35 992.00 L964.46 992.00 L965.58 992.00 L966.70 992.00 L967.81 992.00 L968.93 992.00 L970.04 992.00 L971.16 992.00 L972.28 992.00 L973.39 992.00 L974.51 992.00 L975.62 992.00 L976.74 992.00 L977.86 992.00 L978.97 992.00 L980.09 992.00 L981.20 992.00 L982.32 992.00 L983.44 992.00 L984.55 992.00 L985.67 992.00 L986.78 992.00 L987.90 992.00 L989.02 992.00 L990.13 992.00 L991.25 992.00 L992.36 992.00 L993.48 992.00 L994.60 992.00 L995.71 992.00 L996.83 992.00 L997.94 992.00 L999.06 992.00 L1000.18 992.00 L1001.29 992.00 L1002.41 992.00 L1003.52 992.00 L1004.64 992.00 L1005.76 992.00 L1006.87 992.00 L1007.99 992.00 L1009.10 992.00 L1010.22 992.00 L1011.34 992.00 L1012.45 992.00 L1013.57 992.00 L1014.68 992.00 L1015.80 992.00 L1016.92 992.00 L1018.03 992.00 L1019.15 992.00 L1020.26 992.00 L1021.38 992.00 L1022.50 992.00 L1023.61 992.00 L1024.73 992.00 L1025.84 992.00 L1026.96 992.00 L1028.08 992.00 L1029.19 992.00 L1030.31 992.00 L1031.42 992.00 L1032.54 992.00 L1033.66 992.00 L1034.77 992.00 L1035.89 992.00 L1037.00 992.00 L1038.12 992.00 L1039.24 992.00 L1040.35 992.00 L1041.47 992.00 L1042.58 992.00 L1043.70 992.00 L1044.82 992.00 L1045.93 992.00 L1047.05 992.00 L1048.16 992.00 L1049.28 992.00 L1050.40 992.00 L1051.51 992.00 L1052.63 992.00 L1053.74 992.00 L1054.86 992.00 L1055.98 992.00 L1057.09 992.00 L1058.21 992.00 L1059.32 992.00 L1060.44 992.00 L1061.56 992.00 L1062.67 992.00 L1063.79 992.00 L1064.90 992.00 L1066.02 992.00 L1067.14 992.00 L1068.25 992.00 L1069.37 992.00 L1070.48 992.00 L1071.60 992.00 L1072.72 992.00 L1073.83 992.00 L1074.95 992.00 L1076.06 992.00 L1077.18 992.00 L1078.30 992.00 L1079.41 992.00 L1080.53 992.00 L1081.64 992.00 L1082.76 992.00 L1083.88 992.00 L1084.99 992.00 L1086.11 992.00 L1087.22 992.00 L1088.34 992.00 L1089.46 992.00 L1090.57 992.00 L1091.69 992.00 L1092.80 992.00 L1093.92 992.00 L1095.04 992.00 L1096.15 992.00 L1097.27 992.00 L1098.38 992.00 L1099.50 992.00 L1100.62 992.00 L1101.73 992.00 L1102.85 992.00 L1103.96 992.00 L1105.08 992.00 L1106.20 992.00 L1107.31 992.00 L1108.43 992.00 L1109.54 992.00 L1110.66 992.00 L1111.78 992.00 L1112.89 992.00 L1114.01 992.00 L1115.12 992.00 L1116.24 992.00 L1117.36 992.00 L1118.47 992.00 L1119.59 992.00 L1120.70 992.00 L1121.82 992.00 L1122.94 992.00 L1124.05 992.00 L1125.17 992.00 L1126.28 992.00 L1127.40 992.00 L1128.52 992.00 L1129.63 992.00 L1130.75 992.00 L1131.86 992.00 L1132.98 992.00 L1134.10 992.00 L1135.21 992.00 L1136.33 992.00 L1137.44 992.00 L1138.56 992.00 L1139.68 992.00 L1140.79 992.00 L1141.91 992.00 L1143.02 992.00 L1144.14 992.00 L1145.26 992.00 L1146.37 992.00 L1147.49 992.00 L1148.60 992.00 L1149.72 992.00 L1150.84 992.00 L1151.95 992.00 L1153.07 992.00 L1154.18 992.00 L1155.30 992.00 L1156.42 992.00 L1157.53 992.00 L1158.65 992.00 L1159.76 992.00 L1160.88 992.00 L1162.00 992.00 L1163.11 992.00 L1164.23 992.00 L1165.34 992.00 L1166.46 992.00 L1167.58 992.00 L1168.69 992.00 L1169.81 992.00 L1170.92 992.00 L1172.04 992.00 L1173.16 992.00 L1174.27 992.00 L1175.39 992.00 L1176.50 992.00 L1177.62 992.00 L1178.74 992.00 L1179.85 992.00 L1180.97 992.00 L1182.08 992.00 L1183.20 992.00 L1184.32 992.00 L1185.43 992.00 L1186.55 992.00 L1187.66 992.00 L1188.78 992.00 L1189.90 992.00 L1191.01 992.00 L1192.13 992.00 L1193.24 992.00 L1194.36 992.00 L1195.48 992.00 L1196.59 992.00 L1197.71 992.00 L1198.82 992.00 L1199.94 992.00 L1201.06 992.00 L1202.17 992.00 L1203.29 992.00 L1204.40 992.00 L1205.52 992.00 L1206.64 992.00 L1207.75 992.00 L1208.87 992.00 L1209.98 992.00 L1211.10 992.00 L1212.22 992.00 L1213.33 992.00 L1214.45 992.00 L1215.56 992.00 L1216.68 992.00 L1217.80 992.00 L1218.91 992.00 L1220.03 992.00 L1221.14 992.00 L1222.26 992.00 L1223.38 992.00 L1224.49 992.00 L1225.61 992.00 L1226.72 992.00 L1227.84 992.00 L1228.96 992.00 L1230.07 992.00 L1231.19 992.00 L1232.30 992.00 L1233.42 992.00 L1234.54 992.00 L1235.65 992.00 L1236.77 992.00 L1237.88 992.00 L1239.00 992.00 L1240.12 992.00 L1241.23 992.00 L1242.35 992.00 L1243.46 992.00 L1244.58 992.00 L1245.70 992.00 L1246.81 992.00 L1247.93 992.00 L1249.04 992.00 L1250.16 992.00 L1251.28 992.00 L1252.39 992.00 L1253.51 992.00 L1254.62 992.00 L1255.74 992.00 L1256.86 992.00 L1257.97 992.00 L1259.09 992.00 L1260.20 992.00 L1261.32 992.00 L1262.44 992.00 L1263.55 992.00 L1264.67 992.00 L1265.78 992.00 L1266.90 992.00 L1268.02 992.00 L1269.13 992.00 L1270.25 992.00 L1271.36 992.00 L1272.48 992.00 L1273.60 992.00 L1274.71 992.00 L1275.83 992.00 L1276.94 992.00 L1278.06 992.00 L1279.18 992.00 L1280.29 992.00 L1281.41 992.00 L1282.52 992.00 L1283.64 992.00 L1284.76 992.00 L1285.87 992.00 L1286.99 992.00 L1288.10 992.00 L1289.22 992.00 L1290.34 992.00 L1291.45 992.00 L1292.57 992.00 L1293.68 992.00 L1294.80 992.00 L1295.92 992.00 L1297.03 992.00 L1298.15 992.00 L1299.26 992.00 L1300.38 992.00 L1301.50 992.00 L1302.61 992.00 L1303.73 992.00 L1304.84 992.00 L1305.96 992.00 L1307.08 992.00 L1308.19 992.00 L1309.31 992.00 L1310.42 992.00 L1311.54 992.00 L1312.66 992.00 L1313.77 992.00 L1314.89 992.00 L1316.00 992.00 L1317.12 992.00 L1318.24 992.00 L1319.35 992.00 L1320.47 992.00 L1321.58 992.00 L1322.70 992.00 L1323.82 992.00 L1324.93 992.00 L1326.05 992.00 L1327.16 992.00 L1328.28 992.00 L1329.40 992.00 L1330.51 992.00 L1331.63 992.00 L1332.74 992.00 L1333.86 992.00 L1334.98 992.00 L1336.09 992.00 L1337.21 992.00 L1338.32 992.00 L1339.44 992.00 L1340.56 992.00 L1341.67 992.00 L1342.79 992.00 L1343.90 992.00 L1345.02 992.00 L1346.14 992.00 L1347.25 992.00 L1348.37 992.00 L1349.48 992.00 L1350.60 992.00 L1351.72 992.00 L1352.83 992.00 L1353.95 992.00 L1355.06 992.00 L1356.18 992.00 L1357.30 992.00 L1358.41 992.00 L1359.53 992.00 L1360.64 992.00 L1361.76 992.00 L1362.88 992.00 L1363.99 992.00 L1365.11 992.00 L1366.22 992.00 L1367.34 992.00 L1368.46 992.00 L1369.57 992.00 L1370.69 992.00 L1371.80 992.00 L1372.92 992.00 L1374.04 992.00 L1375.15 992.00 L1376.27 992.00 L1377.38 992.00 L1378.50 992.00 L1379.62 992.00 L1380.73 992.00 L1381.85 992.00 L1382.96 992.00 L1384.08 992.00 L1385.20 992.00 L1386.31 992.00 L1387.43 992.00 L1388.54 992.00 L1389.66 992.00 L1390.78 992.00 L1391.89 992.00 L1393.01 992.00 L1394.12 992.00 L1395.24 992.00 L1396.36 992.00 L1397.47 992.00 L1398.59 992.00 L1399.70 992.00 L1400.82 992.00 L1401.94 992.00 L1403.05 992.00 L1404.17 992.00 L1405.28 992.00 L1406.40 992.00 L1407.52 992.00 L1408.63 992.00 L1409.75 992.00 L1410.86 992.00 L1411.98 992.00 L1413.10 992.00 L1414.21 992.00 L1415.33 992.00 L1416.44 992.00 L1417.56 992.00 L1418.68 992.00 L1419.79 992.00 L1420.91 992.00 L1422.02 992.00 L1423.14 992.00 L1424.26 992.00 L1425.37 992.00 L1426.49 992.00 L1427.60 992.00 L1428.72 992.00 L1429.84 992.00 L1430.95 992.00 L1432.07 992.00 L1433.18 992.00 L1434.30 992.00 L1435.42 992.00 L1436.53 992.00 L1437.65 992.00 L1438.76 992.00 L1439.88 992.00 L1441.00 992.00 L1442.11 992.00 L1443.23 992.00 L1444.34 992.00 L1445.46 992.00 L1446.58 992.00 L1447.69 992.00 L1448.81 992.00 L1449.92 992.00 L1451.04 992.00 L1452.16 992.00 L1453.27 992.00 L1454.39 992.00 L1455.50 992.00 L1456.62 992.00 L1457.74 992.00 L1458.85 992.00 L1459.97 992.00 L1461.08 992.00 L1462.20 992.00 L1463.32 992.00 L1464.43 992.00 L1465.55 992.00 L1466.66 992.00 L1467.78 992.00 L1468.90 992.00 L1470.01 992.00 L1471.13 992.00 L1472.24 992.00 L1473.36 992.00 L1474.48 992.00 L1475.59 992.00 L1476.71 992.00 L1477.82 992.00 L1478.94 992.00 L1480.06 992.00 L1481.17 992.00 L1482.29 992.00 L1483.40 992.00 L1484.52 992.00 L1485.64 992.00 L1486.75 992.00 L1487.87 992.00 L1488.98 992.00 L1490.10 992.00 L1491.22 992.00 L1492.33 992.00 L1493.45 992.00 L1494.56 992.00 L1495.68 992.00 L1496.80 992.00 L1497.91 992.00 L1499.03 992.00 L1500.14 992.00 L1501.26 992.00 L1502.38 992.00 L1503.49 992.00 L1504.61 992.00 L1505.72 992.00 L1506.84 992.00 L1507.96 992.00 L1509.07 992.00 L1510.19 992.00 L1511.30 992.00 L1512.42 992.00 L1513.54 992.00 L1514.65 992.00 L1515.77 992.00 L1516.88 992.00 L1518.00 992.00 L1519.12 992.00 L1520.23 992.00 L1521.35 992.00 L1522.46 992.00 L1523.58 992.00 L1524.70 992.00 L1525.81 992.00 L1526.93 992.00 L1528.04 992.00 L1529.16 992.00 L1530.28 992.00 L1531.39 992.00 L1532.51 992.00 L1533.62 992.00 L1534.74 992.00 L1535.86 992.00 L1536.97 992.00 L1538.09 992.00 L1539.20 992.00 L1540.32 992.00 L1541.44 992.00 L1542.55 992.00 L1543.67 992.00 L1544.78 992.00 L1545.90 992.00 L1547.02 992.00 L1548.13 992.00 L1549.25 992.00 L1550.36 992.00 L1551.48 992.00 L1552.60 992.00 L1553.71 992.00 L1554.83 992.00 L1555.94 992.00 L1557.06 992.00 L1558.18 992.00 L1559.29 992.00 L1560.41 992.00 L1561.52 992.00 L1562.64 992.00 L1563.76 992.00 L1564.87 992.00 L1565.99 992.00 L1567.10 992.00 L1568.22 992.00 L1569.34 992.00 L1570.45 992.00 L1571.57 992.00 L1572.68 992.00 L1573.80 992.00 L1574.92 992.00 L1576.03 992.00 L1577.15 992.00 L1578.26 992.00 L1579.38 992.00 L1580.50 992.00 L1581.61 992.00 L1582.73 992.00 L1583.84 992.00 L1584.96 992.00 L1586.08 992.00 L1587.19 992.00 L1588.31 992.00 L1589.42 992.00 L1590.54 992.00 L1591.66 992.00 L1592.77 992.00 L1593.89 992.00 L1595.00 992.00 L1596.12 992.00 L1597.24 992.00 L1598.35 992.00 L1599.47 992.00 L1600.58 992.00 L1601.70 992.00 L1602.82 992.00 L1603.93 992.00 L1605.05 992.00 L1606.16 992.00 L1607.28 992.00 L1608.40 992.00 L1609.51 992.00 L1610.63 992.00 L1611.74 992.00 L1612.86 992.00 L1613.98 992.00 L1615.09 992.00 L1616.21 992.00 L1617.32 992.00 L1618.44 992.00 L1619.56 992.00 L1620.67 992.00 L1621.79 992.00 L1622.90 992.00 L1624.02 992.00 L1625.14 992.00 L1626.25 992.00 L1627.37 992.00 L1628.48 992.00 L1629.60 992.00 L1630.72 992.00 L1631.83 992.00 L1632.95 992.00 L1634.06 992.00 L1635.18 992.00 L1636.30 992.00 L1637.41 992.00 L1638.53 992.00 L1639.64 992.00 L1640.76 992.00 L1641.88 992.00 L1642.99 992.00 L1644.11 992.00 L1645.22 992.00 L1646.34 992.00 L1647.46 992.00 L1648.57 992.00 L1649.69 992.00 L1650.80 992.00 L1651.92 992.00 L1653.04 992.00 L1654.15 992.00 L1655.27 992.00 L1656.38 992.00 L1657.50 992.00 L1658.62 992.00 L1659.73 992.00 L1660.85 992.00 L1661.96 992.00 L1663.08 992.00 L1664.20 992.00 L1665.31 992.00 L1666.43 992.00 L1667.54 992.00 L1668.66 992.00 L1669.78 992.00 L1670.89 992.00 L1672.01 992.00 L1673.12 992.00 L1674.24 992.00 L1675.36 992.00 L1676.47 992.00 L1677.59 992.00 L1678.70 992.00 L1679.82 992.00 L1680.94 992.00 L1682.05 992.00 L1683.17 992.00 L1684.28 992.00 L1685.40 992.00 L1686.52 992.00 L1687.63 992.00 L1688.75 992.00 L1689.86 992.00 L1690.98 992.00 L1692.10 992.00 L1693.21 992.00 L1694.33 992.00 L1695.44 992.00 L1696.56 992.00 L1697.68 992.00 L1698.79 992.00 L1699.91 992.00 L1701.02 992.00 L1702.14 992.00 L1703.26 992.00 L1704.37 992.00 L1705.49 992.00 L1706.60 992.00 L1707.72 992.00 L1708.84 992.00 L1709.95 992.00 L1711.07 992.00 L1712.18 992.00 L1713.30 992.00 L1714.42 992.00 L1715.53 992.00 L1716.65 992.00 L1717.76 992.00 L1718.88 992.00 L1720.00 992.00 L1721.11 992.00 L1722.23 992.00 L1723.34 992.00 L1724.46 992.00 L1725.58 992.00 L1726.69 992.00 L1727.81 992.00 L1728.92 992.00 L1730.04 992.00 L1731.16 992.00 L1732.27 992.00 L1733.39 992.00 L1734.50 992.00 L1735.62 992.00 L1736.74 992.00 L1737.85 992.00 L1738.97 992.00 L1740.08 992.00 L1741.20 992.00 L1742.32 992.00 L1743.43 992.00 L1744.55 992.00 L1745.66 992.00 L1746.78 992.00 L1747.90 992.00 L1749.01 992.00 L1750.13 992.00 L1751.24 992.00 L1752.36 992.00 L1753.48 992.00 L1754.59 992.00 L1755.71 992.00 L1756.82 992.00 L1757.94 992.00 L1759.06 992.00 L1760.17 992.00 L1761.29 992.00 L1762.40 992.00 L1763.52 992.00 L1764.64 992.00 L1765.75 992.00 L1766.87 992.00 L1767.98 992.00 L1769.10 992.00 L1770.22 992.00 L1771.33 992.00 L1772.45 992.00 L1773.56 992.00 L1774.68 992.00 L1775.80 992.00 L1776.91 992.00 L1778.03 992.00 L1779.14 992.00 L1780.26 992.00 L1781.38 992.00 L1782.49 992.00 L1783.61 992.00 L1784.72 992.00 L1785.84 992.00 L1786.96 992.00 L1788.07 992.00 L1789.19 992.00 L1790.30 992.00 L1791.42 992.00 L1792.54 992.00 L1793.65 992.00 L1794.77 992.00 L1795.88 992.00 L1797.00 992.00 L1798.12 992.00 L1799.23 992.00 L1800.35 992.00 L1801.46 992.00 L1802.58 992.00 L1803.70 992.00 L1804.81 992.00 L1805.93 992.00 L1807.04 992.00 L1808.16 992.00 L1809.28 992.00 L1810.39 992.00 L1811.51 992.00 L1812.62 992.00 L1813.74 992.00 L1814.86 992.00 L1815.97 992.00 L1817.09 992.00 L1818.20 992.00 L1819.32 992.00 L1820.44 992.00 L1821.55 992.00 L1822.67 992.00 L1823.78 992.00 L1824.90 992.00 L1826.02 992.00 L1827.13 992.00 L1828.25 992.00 L1829.36 992.00 L1830.48 992.00 L1831.60 992.00 L1832.71 992.00 L1833.83 992.00 L1834.94 992.00 L1836.06 992.00 L1837.18 992.00 L1838.29 992.00 L1839.41 992.00 L1840.52 992.00 L1841.64 992.00 L1842.76 992.00 L1843.87 992.00 L1844.99 992.00 L1846.10 992.00 L1847.22 992.00 L1848.34 992.00 L1849.45 992.00 L1850.57 992.00 L1851.68 992.00 L1852.80 992.00 L1853.92 992.00 L1855.03 992.00 L1856.15 992.00 L1857.26 992.00 L1858.38 992.00 L1859.50 992.00 L1860.61 992.00 L1861.73 992.00 L1862.84 992.00 L1863.96 992.00 L1865.08 992.00 L1866.19 992.00 L1867.31 992.00 L1868.42 992.00 L1869.54 992.00 L1870.66 992.00 L1871.77 992.00 L1872.89 992.00 L1874.00 992.00 L1875.12 992.00 L1876.24 992.00 L1877.35 992.00 L1878.47 992.00 L1879.58 992.00 L1880.70 992.00 L1881.82 992.00 L1882.93 992.00 L1884.05 992.00 L1885.16 992.00 L1886.28 992.00 L1887.40 992.00 L1888.51 992.00 L1889.63 992.00 L1890.74 992.00 L1891.86 992.00 L1892.98 992.00 L1894.09 992.00 L1895.21 992.00 L1896.32 992.00 L1897.44 992.00 L1898.56 992.00 L1899.67 992.00 L1900.79 992.00 L1901.90 992.00 L1903.02 992.00 L1904.14 992.00 L1905.25 992.00 L1906.37 992.00 L1907.48 992.00 L1908.60 992.00 L1909.72 992.00 L1910.83 992.00 L1911.95 992.00 L1913.06 992.00 L1914.18 992.00 L1915.30 992.00 L1916.41 992.00 L1917.53 992.00 L1918.64 992.00 L1919.76 992.00 L1920.88 992.00 L1921.99 992.00 L1923.11 992.00 L1924.22 992.00 L1925.34 992.00 L1926.46 992.00 L1927.57 992.00 L1928.69 992.00 L1929.80 992.00 L1930.92 992.00 L1932.04 992.00 L1933.15 992.00 L1934.27 992.00 L1935.38 992.00 L1936.50 992.00 L1937.62 992.00 L1938.73 992.00 L1939.85 992.00 L1940.96 992.00 L1942.08 992.00 L1943.20 992.00 L1944.31 992.00 L1945.43 992.00 L1946.54 992.00 L1947.66 992.00 L1948.78 992.00 L1949.89 992.00 L1951.01 992.00 L1952.12 992.00 L1953.24 992.00 L1954.36 992.00 L1955.47 992.00 L1956.59 992.00 L1957.70 992.00 L1958.82 992.00 L1959.94 992.00 L1961.05 992.00 L1962.17 992.00 L1963.28 992.00 L1964.40 992.00 L1965.52 992.00 L1966.63 992.00 L1967.75 992.00 L1968.86 992.00 L1969.98 992.00 L1971.10 992.00 L1972.21 992.00 L1973.33 992.00 L1974.44 992.00 L1975.56 992.00 L1976.68 992.00 L1977.79 992.00 L1978.91 992.00 L1980.02 992.00 L1981.14 992.00 L1982.26 992.00 L1983.37 992.00 L1984.49 992.00 L1985.60 992.00 L1986.72 992.00 L1987.84 992.00 L1988.95 992.00 L1990.07 992.00 L1991.18 992.00 L1992.30 992.00 L1993.42 992.00 L1994.53 992.00 L1995.65 992.00 L1996.76 992.00 L1997.88 992.00 L1999.00 992.00 L2000.11 992.00 L2001.23 992.00 L2002.34 992.00 L2003.46 992.00 L2004.58 992.00 L2005.69 992.00 L2006.81 992.00 L2007.92 992.00 L2009.04 992.00 L2010.16 992.00 L2011.27 992.00 L2012.39 992.00 L2013.50 992.00 L2014.62 992.00 L2015.74 992.00 L2016.85 992.00 L2017.97 992.00 L2019.08 992.00 L2020.20 992.00 L2021.32 992.00 L2022.43 992.00 L2023.55 992.00 L2024.66 992.00 L2025.78 992.00 L2026.90 992.00 L2028.01 992.00 L2029.13 992.00 L2030.24 992.00 L2031.36 992.00 L2032.48 992.00 L2033.59 992.00 L2034.71 992.00 L2035.82 992.00 L2036.94 992.00 L2038.06 992.00 L2039.17 992.00 L2040.29 992.00 L2041.40 992.00 L2042.52 992.00 L2043.64 992.00 L2044.75 992.00 L2045.87 992.00 L2046.98 992.00 L2048.10 992.00 L2049.22 992.00 L2050.33 992.00 L2051.45 992.00 L2052.56 992.00 L2053.68 992.00 L2054.80 992.00 L2055.91 992.00 L2057.03 992.00 L2058.14 992.00 L2059.26 992.00 L2060.38 992.00 L2061.49 992.00 L2062.61 992.00 L2063.72 992.00 L2064.84 992.00 L2065.96 992.00 L2067.07 992.00 L2068.19 992.00 L2069.30 992.00 L2070.42 992.00 L2071.54 992.00 L2072.65 992.00 L2073.77 992.00 L2074.88 992.00 L2076.00 992.00 L2077.12 992.00 L2078.23 992.00 L2079.35 992.00 L2080.46 992.00 L2081.58 992.00 L2082.70 992.00 L2083.81 992.00 L2084.93 992.00 L2086.04 992.00 L2087.16 992.00 L2088.28 992.00 L2089.39 992.00 L2090.51 992.00 L2091.62 992.00 L2092.74 992.00 L2093.86 992.00 L2094.97 992.00 L2096.09 992.00 L2097.20 992.00 L2098.32 992.00 L2099.44 992.00 L2100.55 992.00 L2101.67 992.00 L2102.78 992.00 L2103.90 992.00 L2105.02 992.00 L2106.13 992.00 L2107.25 992.00 L2108.36 992.00 L2109.48 992.00 L2110.60 992.00 L2111.71 992.00 L2112.83 992.00 L2113.94 992.00 L2115.06 992.00 L2116.18 992.00 L2117.29 992.00 L2118.41 992.00 L2119.52 992.00 L2120.64 992.00 L2121.76 992.00 L2122.87 992.00 L2123.99 992.00 L2125.10 992.00 L2126.22 992.00 L2127.34 992.00 L2128.45 992.00 L2129.57 992.00 L2130.68 992.00 L2131.80 992.00 L2132.92 992.00 L2134.03 992.00 L2135.15 992.00 L2136.26 992.00 L2137.38 992.00 L2138.50 992.00 L2139.61 992.00 L2140.73 992.00 L2141.84 992.00 L2142.96 992.00 L2144.08 992.00 L2145.19 992.00 L2146.31 992.00 L2147.42 992.00 L2148.54 992.00 L2149.66 992.00 L2150.77 992.00 L2151.89 992.00 L2153.00 992.00 L2154.12 992.00 L2155.24 992.00 L2156.35 992.00 L2157.47 992.00 L2158.58 992.00 L2159.70 992.00 L2160.82 992.00 L2161.93 992.00 L2163.05 992.00 L2164.16 992.00 L2165.28 992.00 L2166.40 992.00 L2167.51 992.00 L2168.63 992.00 L2169.74 992.00 L2170.86 992.00 L2171.98 992.00 L2173.09 992.00 L2174.21 992.00 L2175.32 992.00 L2176.44 992.00 L2177.56 992.00 L2178.67 992.00 L2179.79 992.00 L2180.90 992.00 L2182.02 992.00 L2183.14 992.00 L2184.25 992.00 L2185.37 992.00 L2186.48 992.00 L2187.60 992.00 L2188.72 992.00 L2189.83 992.00 L2190.95 992.00 L2192.06 992.00 L2193.18 992.00 L2194.30 992.00 L2195.41 992.00 L2196.53 992.00 L2197.64 992.00 L2198.76 992.00 L2199.88 992.00 L2200.99 992.00 L2202.11 992.00 L2203.22 992.00 L2204.34 992.00 L2205.46 992.00 L2206.57 992.00 L2207.69 992.00 L2208.80 992.00 L2209.92 992.00 L2211.04 992.00 L2212.15 992.00 L2213.27 992.00 L2214.38 992.00 L2215.50 992.00 L2216.62 992.00 L2217.73 992.00 L2218.85 992.00 L2219.96 992.00 L2221.08 992.00 L2222.20 991.99 L2223.31 991.99 L2224.43 991.99 L2225.54 991.99 L2226.66 991.99 L2227.78 991.99 L2228.89 991.99 L2230.01 991.99 L2231.12 991.99 L2232.24 991.99 L2233.36 991.99 L2234.47 991.99 L2235.59 991.99 L2236.70 991.99 L2237.82 991.99 L2238.94 991.99 L2240.05 991.99 L2241.17 991.99 L2242.28 991.99 L2243.40 991.99 L2244.52 991.99 L2245.63 991.99 L2246.75 991.99 L2247.86 991.99 L2248.98 991.99 L2250.10 991.99 L2251.21 991.99 L2252.33 991.99 L2253.44 991.99 L2254.56 991.99 L2255.68 991.99 L2256.79 991.98 L2257.91 991.98 L2259.02 991.98 L2260.14 991.98 L2261.26 991.98 L2262.37 991.98 L2263.49 991.98 L2264.60 991.98 L2265.72 991.98 L2266.84 991.98 L2267.95 991.98 L2269.07 991.98 L2270.18 991.98 L2271.30 991.98 L2272.42 991.98 L2273.53 991.97 L2274.65 991.97 L2275.76 991.97 L2276.88 991.97 L2278.00 991.97 L2279.11 991.97 L2280.23 991.97 L2281.34 991.97 L2282.46 991.97 L2283.58 991.96 L2284.69 991.96 L2285.81 991.96 L2286.92 991.96 L2288.04 991.96 L2289.16 991.96 L2290.27 991.96 L2291.39 991.96 L2292.50 991.95 L2293.62 991.95 L2294.74 991.95 L2295.85 991.95 L2296.97 991.95 L2298.08 991.94 L2299.20 991.94 L2300.32 991.94 L2301.43 991.94 L2302.55 991.94 L2303.66 991.93 L2304.78 991.93 L2305.90 991.93 L2307.01 991.93 L2308.13 991.92 L2309.24 991.92 L2310.36 991.92 L2311.48 991.92 L2312.59 991.91 L2313.71 991.91 L2314.82 991.91 L2315.94 991.90 L2317.06 991.90 L2318.17 991.90 L2319.29 991.89 L2320.40 991.89 L2321.52 991.88 L2322.64 991.88 L2323.75 991.88 L2324.87 991.87 L2325.98 991.87 L2327.10 991.86 L2328.22 991.86 L2329.33 991.85 L2330.45 991.85 L2331.56 991.84 L2332.68 991.84 L2333.80 991.83 L2334.91 991.82 L2336.03 991.82 L2337.14 991.81 L2338.26 991.81 L2339.38 991.80 L2340.49 991.79 L2341.61 991.78 L2342.72 991.78 L2343.84 991.77 L2344.96 991.76 L2346.07 991.75 L2347.19 991.74 L2348.30 991.73 L2349.42 991.72 L2350.54 991.71 L2351.65 991.70 L2352.77 991.69 L2353.88 991.68 L2355.00 991.67 L2356.12 991.66 L2357.23 991.65 L2358.35 991.63 L2359.46 991.62 L2360.58 991.61 L2361.70 991.59 L2362.81 991.58 L2363.93 991.56 L2365.04 991.55 L2366.16 991.53 L2367.28 991.52 L2368.39 991.50 L2369.51 991.48 L2370.62 991.46 L2371.74 991.44 L2372.86 991.42 L2373.97 991.40 L2375.09 991.38 L2376.20 991.36 L2377.32 991.34 L2378.44 991.31 L2379.55 991.29 L2380.67 991.26 L2381.78 991.24 L2382.90 991.21 L2384.02 991.18 L2385.13 991.15 L2386.25 991.12 L2387.36 991.09 L2388.48 991.06 L2389.60 991.03 L2390.71 990.99 L2391.83 990.96 L2392.94 990.92 L2394.06 990.88 L2395.18 990.84 L2396.29 990.80 L2397.41 990.76 L2398.52 990.71 L2399.64 990.67 L2400.76 990.62 L2401.87 990.57 L2402.99 990.52 L2404.10 990.47 L2405.22 990.41 L2406.34 990.36 L2407.45 990.30 L2408.57 990.24 L2409.68 990.17 L2410.80 990.11 L2411.92 990.04 L2413.03 989.97 L2414.15 989.90 L2415.26 989.82 L2416.38 989.75 L2417.50 989.67 L2418.61 989.58 L2419.73 989.50 L2420.84 989.41 L2421.96 989.31 L2423.08 989.22 L2424.19 989.12 L2425.31 989.02 L2426.42 988.91 L2427.54 988.80 L2428.66 988.69 L2429.77 988.57 L2430.89 988.45 L2432.00 988.32 L2433.12 988.19 L2434.24 988.05 L2435.35 987.91 L2436.47 987.77 L2437.58 987.62 L2438.70 987.46 L2439.82 987.30 L2440.93 987.13 L2442.05 986.96 L2443.16 986.78 L2444.28 986.59 L2445.40 986.40 L2446.51 986.20 L2447.63 985.99 L2448.74 985.78 L2449.86 985.56 L2450.98 985.33 L2452.09 985.09 L2453.21 984.85 L2454.32 984.59 L2455.44 984.33 L2456.56 984.05 L2457.67 983.77 L2458.79 983.48 L2459.90 983.17 L2461.02 982.86 L2462.14 982.53 L2463.25 982.20 L2464.37 981.85 L2465.48 981.49 L2466.60 981.11 L2467.72 980.72 L2468.83 980.32 L2469.95 979.91 L2471.06 979.47 L2472.18 979.03 L2473.30 978.57 L2474.41 978.09 L2475.53 977.59 L2476.64 977.08 L2477.76 976.55 L2478.88 976.00 L2479.99 975.43 L2481.11 974.84 L2482.22 974.23 L2483.34 973.59 L2484.46 972.94 L2485.57 972.26 L2486.69 971.56 L2487.80 970.83 L2488.92 970.07 L2490.04 969.29 L2491.15 968.48 L2492.27 967.65 L2493.38 966.78 L2494.50 965.88 L2495.62 964.95 L2496.73 963.99 L2497.85 962.99 L2498.96 961.95 L2500.08 960.88 L2501.20 959.78 L2502.31 958.63 L2503.43 957.44 L2504.54 956.21 L2505.66 954.93 L2506.78 953.61 L2507.89 952.25 L2509.01 950.83 L2510.12 949.36 L2511.24 947.84 L2512.36 946.27 L2513.47 944.64 L2514.59 942.96 L2515.70 941.21 L2516.82 939.40 L2517.94 937.53 L2519.05 935.59 L2520.17 933.58 L2521.28 931.49 L2522.40 929.34 L2523.52 927.11 L2524.63 924.80 L2525.75 922.40 L2526.86 919.92 L2527.98 917.36 L2529.10 914.70 L2530.21 911.94 L2531.33 909.09 L2532.44 906.14 L2533.56 903.08 L2534.68 899.91 L2535.79 896.63 L2536.91 893.24 L2538.02 889.72 L2539.14 886.08 L2540.26 882.30 L2541.37 878.39 L2542.49 874.35 L2543.60 870.16 L2544.72 865.82 L2545.84 861.32 L2546.95 856.67 L2548.07 851.85 L2549.18 846.86 L2550.30 841.69 L2551.42 836.33 L2552.53 830.79 L2553.65 825.04 L2554.76 819.10 L2555.88 812.94 L2557.00 806.56 L2558.11 799.96 L2559.23 793.11 L2560.34 786.03 L2561.46 778.69 L2562.58 771.10 L2563.69 763.23 L2564.81 755.08 L2565.92 746.64 L2567.04 737.90 L2568.16 728.85 L2569.27 719.48 L2570.39 709.77 L2571.50 699.71 L2572.62 689.30 L2573.74 678.52 L2574.85 667.36 L2575.97 655.79 L2577.08 643.82 L2578.20 631.41 L2579.32 618.57 L2580.43 605.27 L2581.55 591.49 L2582.66 577.23 L2583.78 562.45 L2584.90 547.15 L2586.01 531.31 L2587.13 514.90 L2588.24 497.90 L2589.36 480.30 L2590.48 462.08 L2591.59 443.20 L2592.71 423.65 L2593.82 403.41 L2594.94 382.44 L2596.06 360.73 L2597.17 338.25 L2598.29 314.96 L2599.40 290.84 L2600.52 265.87 L2601.64 240.01 L2602.75 213.22 L2603.87 185.48 L2604.98 156.75 L2606.10 127.00" fill="none" stroke="#000" stroke-width="2.0" stroke-linejoin="round"/>
<g font-size="20" fill="#262626"><text x="374.10" y="1539" text-anchor="middle">0</text><text x="597.30" y="1539" text-anchor="middle">0.1</text><text x="820.50" y="1539" text-anchor="middle">0.2</text><text x="1043.70" y="1539" text-anchor="middle">0.3</text><text x="1266.90" y="1539" text-anchor="middle">0.4</text><text x="1490.10" y="1539" text-anchor="middle">0.5</text><text x="1713.30" y="1539" text-anchor="middle">0.6</text><text x="1936.50" y="1539" text-anchor="middle">0.7</text><text x="2159.70" y="1539" text-anchor="middle">0.8</text><text x="2382.90" y="1539" text-anchor="middle">0.9</text><text x="2606.10" y="1539" text-anchor="middle">1</text><text x="366" y="1519.10" text-anchor="end">-0.6</text><text x="366" y="1346.10" text-anchor="end">-0.4</text><text x="366" y="1173.10" text-anchor="end">-0.2</text><text x="366" y="1000.10" text-anchor="end">0</text><text x="366" y="827.10" text-anchor="end">0.2</text><text x="366" y="654.10" text-anchor="end">0.4</text><text x="366" y="481.10" text-anchor="end">0.6</text><text x="366" y="308.10" text-anchor="end">0.8</text><text x="366" y="135.10" text-anchor="end">1</text></g>
<text x="1490.5" y="1567" font-size="22" text-anchor="middle" fill="#262626">x</text>
<text transform="translate(319,820.3) rotate(-90)" x="0" y="0" font-size="22" letter-spacing="-0.9" text-anchor="middle" fill="#262626">u(x)</text>
<g font-size="22" font-weight="bold" fill="#000" stroke="#000" stroke-width="0.3"><text x="1228.30" y="119">FEM</text><text x="1280.30" y="119">vs</text><text x="1309.30" y="119">Analytical</text><text x="1418.70" y="119">Solution</text><text x="1510.30" y="119">for</text><text x="1546.20" y="119">-u</text><text x="1569.50" y="119">'</text><text x="1576.40" y="119">'</text><text x="1587.30" y="119">+</text><text x="1606.30" y="119">p</text><text x="1626.30" y="119">u'</text><text x="1651.10" y="119">=</text><text x="1669.50" y="119">0,</text><text x="1701.30" y="119">p=70</text></g>
<rect x="660.50" y="154.50" width="173.00" height="145.00" fill="#fff" stroke="#262626" stroke-width="1"/>
<path d="M668.5 168.20H728" stroke="#0072BD" stroke-width="3.8" fill="none"/>
<circle cx="697.5" cy="168.20" r="5.4" fill="none" stroke="#0072BD" stroke-width="3.6"/>
<text x="734" y="175.75" font-size="18" fill="#000">FEM, N=10</text>
<path d="M668.5 192.10H728" stroke="#D95319" stroke-width="3.8" fill="none"/>
<circle cx="697.5" cy="192.10" r="5.4" fill="none" stroke="#D95319" stroke-width="3.6"/>
<text x="734" y="198.75" font-size="18" fill="#000">FEM, N=20</text>
<path d="M668.5 214.20H728" stroke="#EDB120" stroke-width="3.8" fill="none"/>
<circle cx="697.5" cy="214.20" r="5.4" fill="none" stroke="#EDB120" stroke-width="3.6"/>
<text x="734" y="221.75" font-size="18" fill="#000">FEM, N=30</text>
<path d="M668.5 238.30H728" stroke="#7E2F8E" stroke-width="3.8" fill="none"/>
<circle cx="697.5" cy="238.30" r="5.4" fill="none" stroke="#7E2F8E" stroke-width="3.6"/>
<text x="734" y="244.75" font-size="18" fill="#000">FEM, N=40</text>
<path d="M668.5 261.30H728" stroke="#77AC30" stroke-width="3.8" fill="none"/>
<circle cx="697.5" cy="261.30" r="5.4" fill="none" stroke="#77AC30" stroke-width="3.6"/>
<text x="734" y="267.75" font-size="18" fill="#000">FEM, N=70</text>
<path d="M668.5 283.40H728" stroke="#000" stroke-width="2.5" fill="none"/>
<text x="734" y="290.75" font-size="18" fill="#000">Exact</text>
</svg></body></html>
